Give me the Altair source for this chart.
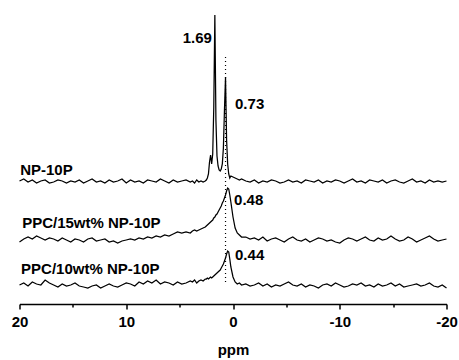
import altair as alt
import pandas as pd

# ppm grid (shared by all three traces)
ppm = [20.0, 19.6, 19.2, 18.8, 18.4, 18.0, 17.6, 17.2, 16.8, 16.4, 16.0, 15.6, 15.2, 14.8, 14.4, 14.0,
       13.6, 13.2, 12.8, 12.4, 12.0, 11.6, 11.2, 10.8, 10.4, 10.0, 9.6, 9.2, 8.8, 8.4, 8.0, 7.6, 7.2,
       6.8, 6.4, 6.0, 5.6, 5.2, 4.8, 4.4, 4.0,
       3.8, 3.6, 3.4, 3.2, 3.0, 2.8, 2.6,
       2.5, 2.4, 2.3, 2.2, 2.1, 2.0, 1.9, 1.8, 1.7, 1.6, 1.5, 1.4, 1.3, 1.2, 1.1, 1.0, 0.9, 0.8,
       0.7, 0.6, 0.5, 0.4, 0.3,
       0.2, 0.0, -0.2, -0.4, -0.6, -0.8,
       -1.2, -1.6, -2.0, -2.4, -2.8, -3.2, -3.6, -4.0, -4.4, -4.8, -5.2, -5.6, -6.0, -6.4, -6.8,
       -7.2, -7.6, -8.0, -8.4, -8.8, -9.2, -9.6, -10.0, -10.4, -10.8, -11.2, -11.6, -12.0, -12.4,
       -12.8, -13.2, -13.6, -14.0, -14.4, -14.8, -15.2, -15.6, -16.0, -16.4, -16.8, -17.2, -17.6,
       -18.0, -18.4, -18.8, -19.2, -19.6, -20.0]

# intensities relative to each trace's own baseline (arbitrary units)
np10p = ([1, 3, 0, 2, -1, 1, 2, -1, 0, 2,
          1, -1, 1, 0, 2, -1, 1, 3, 0, 1,
          -1, 2, 0, 1, 3, -1, 2, 0, 1, -1,
          2, 1, 0, 3, 1, -1, 2, 0, 1, 2,
          0]
         + [1, -1, 2, 0, 1, 0, 1]
         + [2, 4, 8, 20, 27, 18, 28, 75, 167, 62, 26, 16, 12, 11, 13, 18, 34, 72, 105, 42, 18, 8, 4]
         + [6, 5, 4, 3, 2, 3]
         + [1, 0, 2, -1, 1, 0, 2, 1, -1, 0,
            2, 0, 1, -1, 2, 1, 0, 2, -1, 1,
            0, 2, 1, -1, 1, 3, 0, 1, -1, 2,
            1, 0, 2, -1, 1, 2, 0, -1, 1, 3,
            0, 1, -1, 2, 0, 1, 0, 1])

ppc15 = ([-2, 1, 3, 1, 4, 2, 0, 2, 1, -1,
          2, 0, -2, 1, 0, -2, 1, 2, -1, 0,
          1, -2, -1, -3, -1, 0, 1, 0, 2, 1,
          3, 2, 4, 3, 5, 4, 6, 8, 7, 8,
          7]
         + [9, 10, 9, 10, 11, 12, 13]
         + [14, 15, 16, 17, 18, 19, 20, 22, 23, 25, 26, 28, 30, 32, 34, 37, 39, 42, 45, 49, 52, 51, 45]
         + [38, 23, 12, 7, 5, 3]
         + [3, 1, 2, 0, 3, -1, 1, 2, 0, -2,
            1, 3, 0, -1, 1, -2, 0, 2, 1, -1,
            0, -2, -3, 0, 2, 1, -1, 1, 3, 0,
            -1, 2, 0, 1, 4, 1, -1, 0, 3, 1,
            -2, 0, 2, 4, 1, -1, 0, 1])

ppc10 = ([1, 3, 0, 4, 2, 1, 6, 3, 1, -1,
          2, 0, 1, 3, 0, -1, -2, 0, 1, -2,
          0, 2, 0, -1, 1, 3, 2, 0, 4, 2,
          5, 3, 6, 2, 4, 3, 1, 4, 2, 3,
          5]
         + [4, 6, 3, 5, 6, 5, 7]
         + [7, 8, 7, 8, 9, 8, 9, 10, 11, 12, 13, 14, 15, 16, 18, 20, 22, 25, 28, 32, 35, 34, 27]
         + [19, 9, 4, 2, 3, 1]
         + [2, 0, 1, 3, 0, 2, -1, 1, 0, 2,
            4, 1, 0, 2, -1, 1, 0, -2, 1, 2,
            0, 3, 1, -1, 0, 2, 1, 3, 0, 1,
            -1, 2, 0, 1, 3, 0, 2, -1, 0, 1,
            2, 0, 1, 3, 0, -1, 1, -2])

series = ["NP-10P", "PPC/15wt% NP-10P", "PPC/10wt% NP-10P"]
offsets = [122, 64, 18]
traces = [np10p, ppc15, ppc10]

tick_values = [20, 15, 10, 5, 0, -5, -10, -15, -20]

for t in traces:
    assert len(t) == len(ppm), (len(t), len(ppm))

rows = []
for name, off, vals in zip(series, offsets, traces):
    for x, v in zip(ppm, vals):
        rows.append({"ppm": x, "I": off + v, "series": name})
df = pd.DataFrame(rows)

# annotations
ann_text = ["1.69", "0.73", "0.48", "0.44"]
ann_x = [1.97, -0.19, -0.10, -0.19]
ann_y = [266, 200, 104, 49]
lab_text = series
lab_x = [19.94, 19.75, 19.85]
lab_y = [134, 81, 35]

ann = pd.DataFrame({"t": ann_text, "x": ann_x, "y": ann_y,
                    "align": ["right", "left", "left", "left"]})
labs = pd.DataFrame({"t": lab_text, "x": lab_x, "y": lab_y})
guide = pd.DataFrame({"x": [0.7], "y": [247], "y2": [20]})

FONT = "Liberation Sans"
xscale = alt.Scale(domain=[-20, 20], reverse=True, nice=False, zero=False)
yscale = alt.Scale(domain=[0, 304], nice=False, zero=False)

lines = alt.Chart(df).mark_line(color="black", strokeWidth=1.25).encode(
    x=alt.X("ppm:Q", scale=xscale,
            axis=alt.Axis(values=tick_values,
                          tickSize={"condition": {"test": "datum.value % 10 != 0", "value": 3},
                                    "value": 5},
                          labelExpr="datum.value % 10 == 0 ? '' + datum.value : ''",
                          labelPadding=5,
                          title="ppm", titlePadding=13, labelFontSize=15, titleFontSize=15,
                          labelFont=FONT, titleFont=FONT, labelFontWeight="bold",
                          titleFontWeight="bold", domainWidth=1.5, tickWidth=1.5,
                          domainColor="black", tickColor="black", labelColor="black",
                          titleColor="black", grid=False, labelFlush=False,
                          labelOverlap=False)),
    y=alt.Y("I:Q", scale=yscale, axis=None),
    detail="series:N",
)

guide_rule = alt.Chart(guide).mark_rule(strokeDash=[1, 3], color="black", strokeWidth=1.2).encode(
    x=alt.X("x:Q", scale=xscale),
    y=alt.Y("y:Q", scale=yscale),
    y2="y2:Q",
)

ann_l = alt.Chart(ann[ann["align"] == "left"]).mark_text(
    align="left", baseline="middle", font=FONT, fontSize=15, fontWeight="bold", color="black"
).encode(x=alt.X("x:Q", scale=xscale), y=alt.Y("y:Q", scale=yscale), text="t:N")

ann_r = alt.Chart(ann[ann["align"] == "right"]).mark_text(
    align="right", baseline="middle", font=FONT, fontSize=15, fontWeight="bold", color="black"
).encode(x=alt.X("x:Q", scale=xscale), y=alt.Y("y:Q", scale=yscale), text="t:N")

lab_l = alt.Chart(labs).mark_text(
    align="left", baseline="middle", font=FONT, fontSize=15, fontWeight="bold", color="black"
).encode(x=alt.X("x:Q", scale=xscale), y=alt.Y("y:Q", scale=yscale), text="t:N")

chart = alt.layer(lines, guide_rule, ann_l, ann_r, lab_l).properties(
    width=427, height=304,
    autosize=alt.AutoSizeParams(type="none"),
    padding={"left": 19.5, "top": 0, "right": 12.5, "bottom": 56},
).configure_view(stroke=None)

chart.save("out.html", embed_options={"renderer": "svg", "actions": False})
